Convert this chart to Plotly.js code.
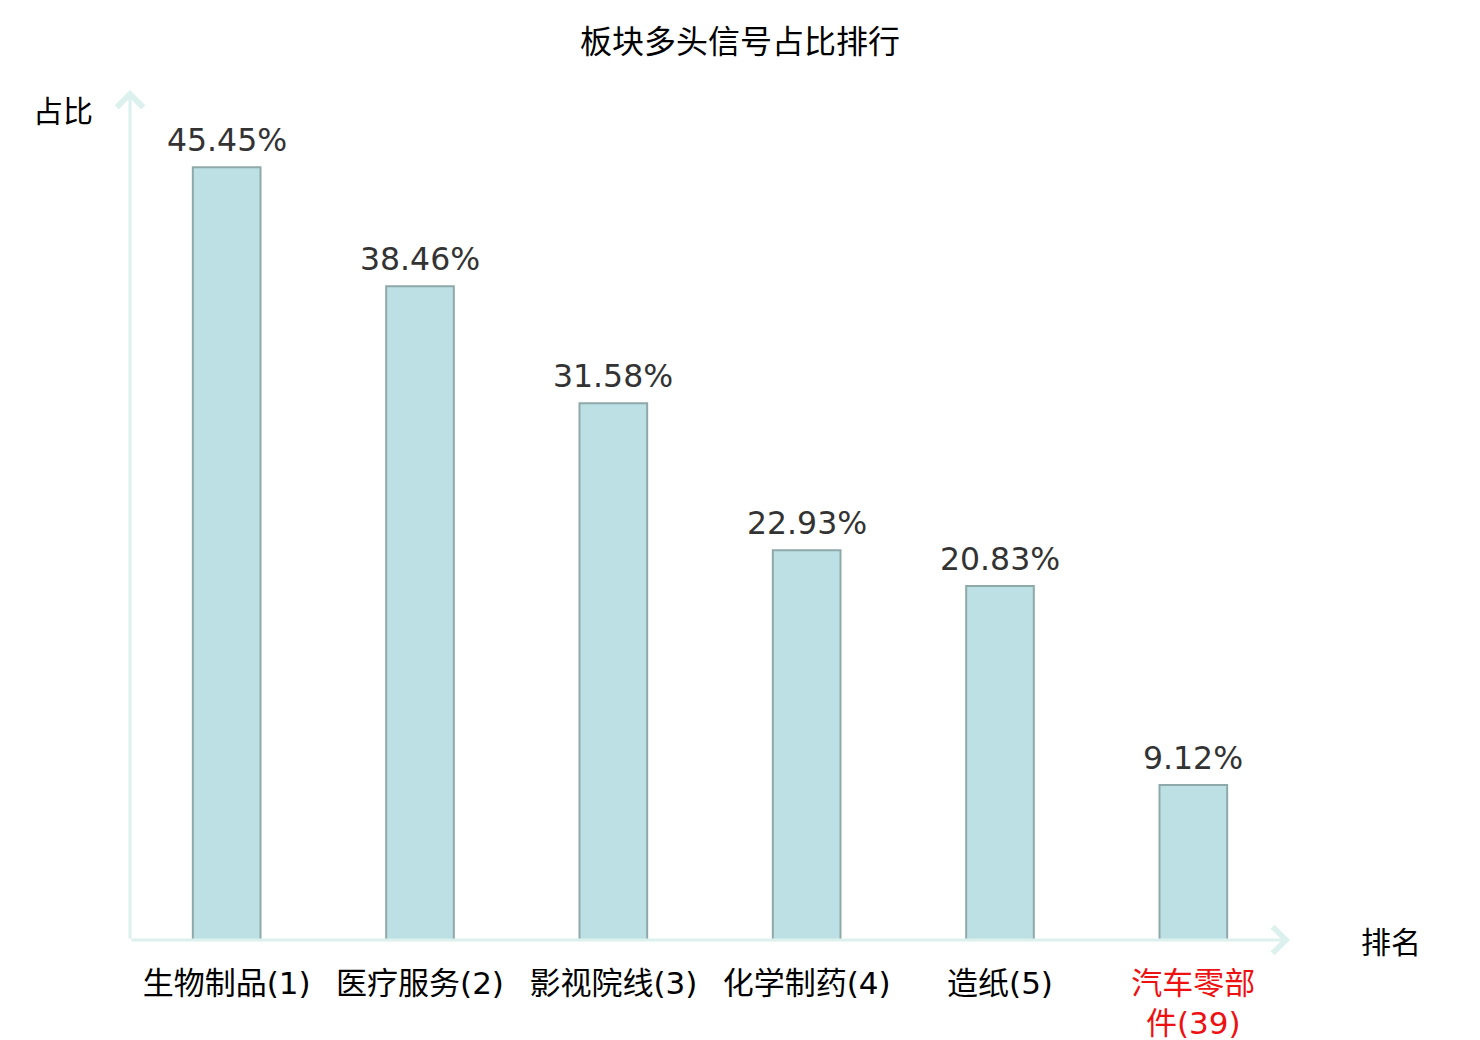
<!DOCTYPE html>
<html>
<head>
<meta charset="utf-8">
<script src="https://cdn.plot.ly/plotly-3.0.1.min.js"></script>
<style>
  body { margin: 0; background: #fff; }
  #chart { width: 1480px; height: 1040px; }
</style>
</head>
<body>
<div id="chart"></div>
<script>
// 板块及排名
const sectors = ['生物制品', '医疗服务', '影视院线', '化学制药', '造纸', '汽车零部件'];
const ranks = [1, 2, 3, 4, 5, 39];
// 多头信号占比 (%)
const ratios = [45.45, 38.46, 31.58, 22.93, 20.83, 9.12];
// 需要高亮的板块
const highlight = ['汽车零部件'];

const cjkFont = '"Noto Sans CJK SC", "DejaVu Sans", sans-serif';
const numFont = '"DejaVu Sans", "Noto Sans CJK SC", sans-serif';
const axisColor = '#dcf1ee';

const idx = sectors.map((_, i) => i);

// 刻度文字，长名称换行，高亮的标红
const tickText = sectors.map((s, i) => {
    let name = s.length > 4 ? s.slice(0, 4) + '<br>' + s.slice(4) : s;
    let t = name + '(' + ranks[i] + ')';
    if (highlight.includes(s)) t = '<span style="color:#ee1111">' + t + '</span>';
    return t;
});

const bars = {
    x: idx,
    y: ratios,
    type: 'bar',
    width: 0.35,
    marker: {
        color: '#bce0e3',
        line: { color: '#8fa9aa', width: 2 }
    },
    hoverinfo: 'skip'
};

// 柱顶数值
const valueLabels = ratios.map((v, i) => ({
    x: i, y: v, xref: 'x', yref: 'y',
    text: v.toFixed(2) + '%',
    showarrow: false,
    yanchor: 'bottom',
    yshift: 7,
    font: { family: numFont, size: 31.5, color: '#333333' }
}));

const xMax = sectors.length - 0.5;
const yMax = 50;

const axisArrows = [
    { x: xMax, y: 0, ax: -0.5, ay: 0 },
    { x: -0.5, y: yMax, ax: -0.5, ay: 0 }
].map(a => Object.assign({
    xref: 'x', yref: 'y', axref: 'x', ayref: 'y',
    text: '', showarrow: true,
    arrowhead: 4, arrowsize: 1.7, arrowwidth: 3,
    arrowcolor: axisColor
}, a));

const axisNames = [
    { text: '占比', x: -0.058, y: 0.978 },
    { text: '排名', x: 1.087, y: 0.0 }
].map(a => Object.assign({
    xref: 'paper', yref: 'paper',
    showarrow: false,
    xanchor: 'center', yanchor: 'middle',
    font: { family: cjkFont, size: 30, color: '#000' }
}, a));

const layout = {
    width: 1480,
    height: 1040,
    margin: { l: 130, r: 190, t: 90, b: 100 },
    paper_bgcolor: '#ffffff',
    plot_bgcolor: '#ffffff',
    showlegend: false,
    title: {
        text: '板块多头信号占比排行',
        x: 0.5, xref: 'container', xanchor: 'center',
        y: 0.96, yref: 'container', yanchor: 'middle',
        font: { family: cjkFont, size: 32, color: '#000' }
    },
    xaxis: {
        range: [-0.5, xMax],
        tickvals: idx,
        ticktext: tickText,
        tickfont: { family: numFont, size: 31, color: '#000' },
        showline: false, showgrid: false, zeroline: false,
        ticks: '', ticklabelstandoff: 22,
        fixedrange: true
    },
    yaxis: {
        range: [0, yMax],
        showticklabels: false,
        showline: false, showgrid: false, zeroline: false,
        ticks: '', fixedrange: true
    },
    annotations: [...axisArrows, ...valueLabels, ...axisNames]
};

Plotly.newPlot('chart', [bars], layout, { displayModeBar: false, staticPlot: true });
</script>
</body>
</html>
